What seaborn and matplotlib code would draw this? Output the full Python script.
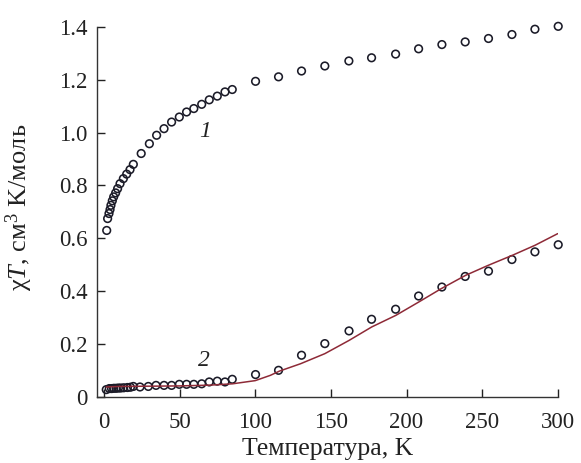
import matplotlib
matplotlib.use("Agg")
import matplotlib.pyplot as plt
import seaborn as sns
import pandas as pd
from matplotlib.ticker import FuncFormatter

# Series 1 (upper curve)
t1 = [1.8, 2.4, 3.3, 4.0, 4.6, 5.5, 6.4, 7.7, 9.0, 10.6, 12.8, 15.0, 17.2, 19.4,
      24.6, 30.0, 34.8, 39.7, 44.7, 49.8, 54.6, 59.4, 64.6, 69.6, 74.9, 80.0, 84.8,
      100.2, 115.4, 130.6, 146.0, 161.9, 176.9, 192.8, 208.0, 223.4, 238.8, 254.2,
      269.7, 284.9, 300.3]
chi1 = [0.630, 0.675, 0.694, 0.709, 0.725, 0.742, 0.757, 0.772, 0.788, 0.807, 0.826,
        0.843, 0.860, 0.880, 0.921, 0.958, 0.990, 1.015, 1.040, 1.059, 1.078, 1.091,
        1.107, 1.124, 1.138, 1.154, 1.163, 1.194, 1.211, 1.233, 1.252, 1.271, 1.283,
        1.297, 1.317, 1.333, 1.343, 1.356, 1.371, 1.391, 1.402]

# Series 2 (lower curve, experiment)
t2 = [1.5, 3.5, 5.0, 6.5, 8.0, 9.5, 11.0, 13.0, 15.5, 17.5, 19.4, 23.8, 29.3, 34.4,
      39.7, 44.7, 49.8, 54.6, 59.4, 64.6, 69.6, 74.9, 80.0, 84.8, 100.2, 115.4,
      130.6, 146.0, 162.0, 176.9, 192.8, 208.0, 223.4, 238.8, 254.2, 269.7, 284.9, 300.3]
chi2 = [0.028, 0.032, 0.032, 0.033, 0.033, 0.034, 0.034, 0.035, 0.036, 0.037, 0.040,
        0.038, 0.040, 0.044, 0.044, 0.044, 0.048, 0.048, 0.048, 0.050, 0.057, 0.060,
        0.057, 0.067, 0.085, 0.101, 0.158, 0.202, 0.250, 0.294, 0.332, 0.382, 0.416,
        0.456, 0.476, 0.520, 0.549, 0.576]

# Series 2 fit (line)
t_fit = [1.5, 10, 30, 50, 70, 85, 100, 110, 116, 130, 146, 162, 177, 193, 208, 223,
         239, 254, 270, 285, 300]
chi_fit = [0.038, 0.040, 0.041, 0.042, 0.045, 0.050, 0.062, 0.082, 0.098, 0.126,
           0.164, 0.214, 0.265, 0.309, 0.359, 0.410, 0.460, 0.498, 0.536, 0.574, 0.618]

x_ticks = [0, 50, 100, 150, 200, 250, 300]
y_ticks = [0, 0.2, 0.4, 0.6, 0.8, 1.0, 1.2, 1.4]

sns.set_theme(style="ticks")
plt.rcParams["font.family"] = ["Liberation Serif", "DejaVu Serif"]
plt.rcParams["mathtext.fontset"] = "custom"
plt.rcParams["mathtext.rm"] = "Liberation Serif"
plt.rcParams["mathtext.it"] = "Liberation Serif:italic"

fig = plt.figure(figsize=(5.81, 4.63), dpi=100)
ax = fig.add_axes([0.167, 0.1425, 0.793, 0.7995])

df1 = pd.DataFrame({"T": t1, "chi": chi1})
df2 = pd.DataFrame({"T": t2, "chi": chi2})
dff = pd.DataFrame({"T": t_fit, "chi": chi_fit})

mk = dict(marker="o", s=30, facecolor="none", edgecolor="#1b1b28", linewidth=1.15,
          clip_on=False, zorder=2)
sns.scatterplot(data=df1, x="T", y="chi", ax=ax, **mk)
sns.scatterplot(data=df2, x="T", y="chi", ax=ax, **mk)
sns.lineplot(data=dff, x="T", y="chi", ax=ax, color="#8e2a37", linewidth=1.1, zorder=3)

ax.set_xlim(-4.6, 300)
ax.set_ylim(0, 1.4)
ax.set_xticks(x_ticks)
ax.set_yticks(y_ticks)
ax.yaxis.set_major_formatter(FuncFormatter(lambda v, p: "0" if v == 0 else f"{v:.1f}"))
ax.tick_params(direction="in", length=6, width=1, labelsize=16.5, colors="#222222",
               labelcolor="#222222")
ax.tick_params(axis="x", pad=11)
ax.tick_params(axis="y", pad=7)
for s in ["top", "right"]:
    ax.spines[s].set_visible(False)
for s in ["left", "bottom"]:
    ax.spines[s].set_color("#333333")
    ax.spines[s].set_linewidth(1.0)
ax.spines["bottom"].set_bounds(-4.6, 300)

ax.set_xlabel("Температура, K", fontsize=18.5, color="#222222")
ax.xaxis.set_label_coords(0.5, -0.112)
ax.set_ylabel("χ$T$, см$^3$ K/моль", fontsize=19, color="#222222")
ax.yaxis.set_label_coords(-0.135, 0.513)

ax.text(66.8, 1.005, "1", fontsize=17, style="italic", ha="center", va="center", color="#222222")
ax.text(66.0, 0.14, "2", fontsize=17, style="italic", ha="center", va="center", color="#222222")

fig.savefig("out.png", dpi=100)
